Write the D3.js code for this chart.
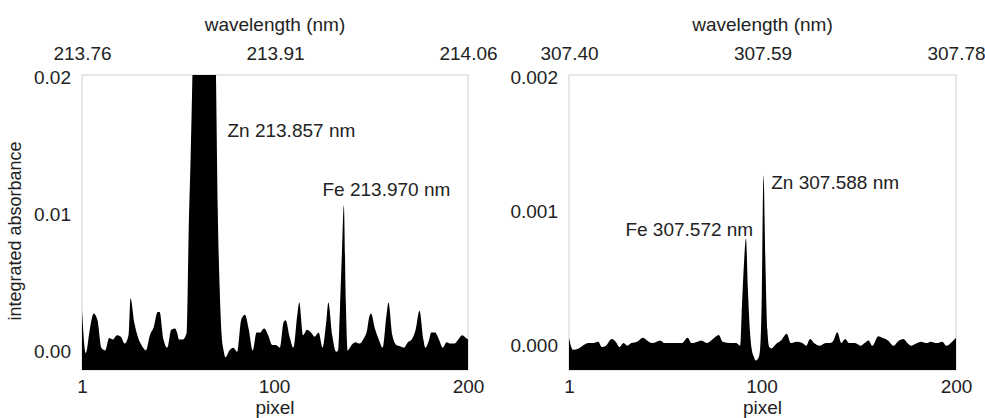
<!DOCTYPE html>
<html>
<head>
<meta charset="utf-8">
<script src="https://cdn.jsdelivr.net/npm/d3@7"></script>
<style>
  body { margin: 0; background: #fff; }
  text { font-family: "Liberation Sans", Arial, sans-serif; fill: #222; }
</style>
</head>
<body>
<div id="chart"></div>
<script>
// left spectrum (Zn 213.857 / Fe 213.970)
const leftPixel = [1,3,5,7,9,11,13,15,17,19,21,23,25,26,28,30,32,34,36,38,40,41,43,45,47,49,50,51,53,55,
  56,57,58,59,60,61,62,63,64,65,66,67,68,69,70,71,72,73,74,75,77,79,81,83,84,85,87,89,91,93,
  94,95,97,99,101,103,105,106,108,110,112,113,115,117,119,121,123,125,127,128,130,132,133,134,135,136,137,138,140,142,
  144,146,148,149,150,152,154,156,158,159,161,163,165,167,169,171,173,175,177,178,180,181,183,185,187,189,191,193,195,197,
  199,200];
const leftAbs = [0.0028,-0.0003,0.0014,0.0026,0.0021,0.0001,-0.0001,0.0008,0.0007,0.0010,0.0009,0.0004,0.0010,0.0037,0.0019,0.0008,0.0002,-0.0001,0.0010,0.0016,0.0027,0.0027,0.0007,0.0001,0.0014,0.0015,0.0012,0.0007,0.0007,0.0012,
  0.0086,0.0140,0.0205,0.028,0.036,0.044,0.050,0.054,0.055,0.053,0.048,0.041,0.033,0.026,0.0205,0.0101,0.0043,0.0010,-0.0001,-0.0006,-0.0001,0.0001,-0.0002,0.0021,0.0024,0.0025,0.0014,-0.0001,0.0012,0.0012,
  0.0014,0.0015,0.0010,0.0003,0.0003,0.0001,0.0020,0.0021,0.0009,0.0001,0.0025,0.0034,0.0010,0.0014,0.0012,0.0009,0.0012,0.0001,0.0021,0.0034,0.0010,-0.0002,-0.0001,0.0030,0.0070,0.0105,0.0035,-0.0001,0.0003,0.0005,
  0.0004,0.0007,0.0014,0.0023,0.0026,0.0015,0.0007,0.0001,0.0025,0.0034,0.0010,0.0003,0.0002,0.0001,0.0005,0.0007,0.0014,0.0028,0.0007,0.0001,0.0007,0.0012,0.0012,0.0007,0.0001,0.0005,0.0004,0.0004,0.0007,0.0010,
  0.0008,0.0007];

// right spectrum (Fe 307.572 / Zn 307.588)
const rightPixel = [1,3,6,8,11,13,16,18,20,23,25,27,29,31,33,36,39,42,44,48,50,54,56,59,62,64,67,69,72,75,
  78,80,84,87,89,90,91,92,93,94,95,96,97,98,99,100,101,102,103,104,105,108,110,113,115,118,121,123,125,127,
  130,133,135,137,139,141,143,145,148,151,153,155,157,160,162,165,168,170,173,175,177,180,182,185,187,190,193,195,198,200];
const rightAbs = [0.00004,-0.00005,-0.00004,-0.00002,0,0,0.00001,-0.00003,-0.00002,0.00003,0.00001,-0.00003,0,-0.00002,0,0.00001,0.00004,0.00001,0,0.00002,0,0,0,0,0.00004,0,0.00001,0.00002,0,0.00003,
  0.00006,0.00001,0,0,-0.00002,0.00030,0.00060,0.00078,0.00040,0.00010,-0.00005,-0.00010,-0.00013,-0.00012,-0.00008,0.00025,0.00125,0.00060,0.00010,-0.00003,-0.00004,0,0.00002,0.00007,0,0.00001,0,-0.00002,0.00003,0,
  -0.00002,0,0,0.00002,0.00008,0,0.00003,0,0,-0.00002,0,0.00002,-0.00002,0.00005,0.00004,0.00002,-0.00002,0.00001,0.00003,0,-0.00002,0,0.00001,0,0.00001,0,0.00001,-0.00002,0.00001,0.00004];

const pixelTicks = [1, 100, 200];
const leftWave = [213.76, 213.91, 214.06];
const rightWave = [307.40, 307.59, 307.78];
const leftYTicks = [0, 0.01, 0.02];
const rightYTicks = [0, 0.001, 0.002];
const leftPeaks = [{text:"Zn 213.857 nm", p:76, v:0.0155}, {text:"Fe 213.970 nm", p:125, v:0.0112}];
const rightPeaks = [{text:"Zn 307.588 nm", p:105, v:0.00115}, {text:"Fe 307.572 nm", p:30, v:0.00080}];

const width = 985, height = 418;
const plotTop = 75, plotBottom = 370;
const fontSize = "19px";

const svg = d3.select("#chart").append("svg")
  .attr("width", width)
  .attr("height", height);

function drawPanel(id, px, abs, wave, yTicks, yFmt, yMin, x0, x1, peaks){
  const x = d3.scaleLinear().domain([1, 200]).range([x0, x1]);
  const y = d3.scaleLinear().domain([yMin, yTicks[2]]).range([plotBottom, plotTop]);
  const xw = d3.scaleLinear().domain([wave[0], wave[2]]).range([x0, x1]);
  const data = px.map((p, i) => ({p: p, v: abs[i]}));

  const g = svg.append("g");

  g.append("clipPath").attr("id", "clip" + id)
    .append("rect")
    .attr("x", x0).attr("y", plotTop)
    .attr("width", x1 - x0).attr("height", plotBottom - plotTop);

  // frame
  g.append("rect")
    .attr("x", x0).attr("y", plotTop)
    .attr("width", x1 - x0).attr("height", plotBottom - plotTop)
    .attr("fill", "none")
    .attr("stroke", "#cfcfcf")
    .attr("stroke-width", 1);

  const area = d3.area()
    .curve(d3.curveMonotoneX)
    .x(d => x(d.p))
    .y0(plotBottom)
    .y1(d => y(d.v));

  g.append("path")
    .datum(data)
    .attr("clip-path", "url(#clip" + id + ")")
    .attr("d", area)
    .attr("fill", "#000");

  // bottom axis
  const xa = g.append("g")
    .attr("transform", `translate(0,${plotBottom})`)
    .call(d3.axisBottom(x).tickValues(pixelTicks).tickSize(0).tickPadding(10));
  // top axis
  const ta = g.append("g")
    .attr("transform", `translate(0,${plotTop})`)
    .call(d3.axisTop(xw).tickValues(wave).tickFormat(d3.format(".2f")).tickSize(0).tickPadding(15));
  // left axis
  const ya = g.append("g")
    .attr("transform", `translate(${x0},0)`)
    .call(d3.axisLeft(y).tickValues(yTicks).tickFormat(d3.format(yFmt)).tickSize(0).tickPadding(11));

  [xa, ta, ya].forEach(a => {
    a.select(".domain").remove();
    a.selectAll("text").style("font-size", fontSize).attr("fill", "#222")
      .style("font-family", '"Liberation Sans", Arial, sans-serif');
  });
  ya.selectAll("text").attr("dy", "0.45em");

  g.append("text")
    .attr("x", (x0 + x1) / 2).attr("y", 414)
    .attr("text-anchor", "middle")
    .style("font-size", fontSize)
    .text("pixel");

  g.append("text")
    .attr("x", (x0 + x1) / 2).attr("y", 31)
    .attr("text-anchor", "middle")
    .style("font-size", fontSize)
    .text("wavelength (nm)");

  peaks.forEach(pk => {
    g.append("text")
      .attr("x", x(pk.p)).attr("y", y(pk.v))
      .style("font-size", fontSize)
      .text(pk.text);
  });
}

drawPanel("L", leftPixel, leftAbs, leftWave, leftYTicks, ".2f", -0.00153, 82, 468, leftPeaks);
drawPanel("R", rightPixel, rightAbs, rightWave, rightYTicks, ".3f", -0.000201, 569, 956, rightPeaks);

svg.append("text")
  .attr("transform", "translate(21,231) rotate(-90)")
  .attr("text-anchor", "middle")
  .style("font-size", "18px")
  .text("integrated absorbance");
</script>
</body>
</html>
